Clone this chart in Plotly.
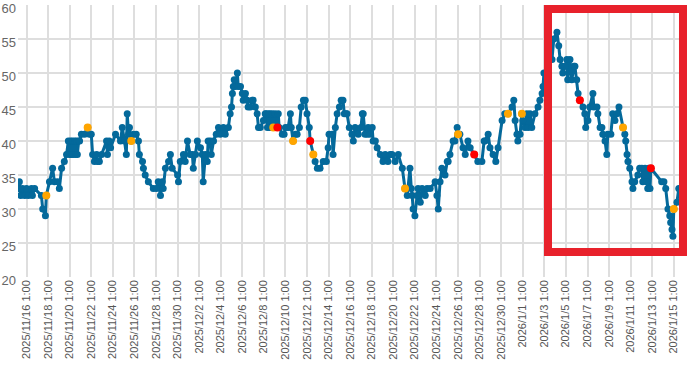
import datetime as dt
import plotly.graph_objects as go

# ---------------- data ----------------
start = dt.datetime(2025, 11, 16, 1, 0)

# hours after 2025/11/16 1:00 and the reading at that time
hours = [-18, -16, -13, -9, -4, 0, 4, 11, 13, 18, 33, 36, 42, 44, 51, 58, 62, 69, 73, 78,
         84, 89, 93, 96, 98, 100, 102, 104, 107, 109, 111, 113, 116, 118, 122, 129, 136, 140, 144, 147,
         151, 156, 158, 162, 167, 178, 180, 184, 187, 198, 209, 213, 218, 222, 224, 227, 229, 233, 238, 244,
         249, 251, 258, 260, 264, 271, 282, 289, 293, 298, 302, 304, 309, 316, 320, 324, 336, 338, 342, 349,
         353, 358, 364, 369, 371, 376, 380, 387, 391, 393, 398, 402, 404, 409, 411, 416, 422, 427, 431, 438,
         442, 449, 453, 456, 458, 460, 462, 464, 469, 471, 476, 480, 482, 487, 491, 493, 498, 502, 504, 509,
         513, 516, 520, 527, 531, 533, 536, 538, 540, 542, 544, 547, 549, 553, 558, 560, 562, 569, 573, 576,
         582, 587, 589, 593, 598, 602, 607, 611, 616, 620, 624, 629, 631, 638, 642, 647, 653, 660, 667, 671,
         673, 680, 682, 687, 691, 696, 700, 704, 707, 711, 713, 718, 724, 727, 731, 738, 744, 747, 749, 753,
         758, 760, 764, 769, 771, 776, 780, 787, 793, 798, 804, 809, 813, 820, 827, 836, 842, 847, 853, 856,
         858, 860, 864, 869, 871, 876, 880, 887, 891, 898, 909, 913, 916, 920, 924, 931, 936, 938, 942, 949,
         953, 958, 960, 964, 971, 976, 982, 987, 996, 1004, 1013, 1018, 1020, 1027, 1031, 1038, 1044, 1049, 1058, 1064,
         1071, 1080, 1084, 1087, 1091, 1093, 1098, 1102, 1104, 1109, 1113, 1116, 1120, 1124, 1131, 1138, 1142, 1147, 1149, 1151,
         1160, 1169, 1173, 1180, 1184, 1187, 1191, 1193, 1198, 1202, 1204, 1209, 1213, 1218, 1220, 1224, 1227, 1231, 1238, 1242,
         1244, 1249, 1253, 1260, 1262, 1269, 1271, 1276, 1280, 1282, 1287, 1291, 1293, 1300, 1304, 1309, 1313, 1318, 1327, 1331,
         1333, 1336, 1338, 1342, 1347, 1349, 1353, 1360, 1364, 1369, 1371, 1376, 1380, 1382, 1384, 1387, 1389, 1413, 1418, 1422,
         1427, 1431, 1433, 1436, 1438, 1440, 1447, 1451]

values = [33, 34, 32, 33, 32, 33, 32, 33, 32, 33, 32, 30, 29, 32, 34, 36, 34, 34, 33, 36,
          37, 38, 40, 38, 40, 38, 40, 38, 40, 38, 40, 38, 40, 40, 41, 41, 42, 41, 41, 38,
          37, 38, 37, 37, 38, 40, 38, 40, 39, 41, 40, 42, 40, 38, 44, 41, 42, 40, 41, 41,
          40, 38, 37, 36, 35, 34, 33, 33, 34, 32, 34, 33, 36, 37, 38, 36, 35, 34, 37, 38,
          37, 40, 38, 38, 36, 38, 40, 39, 38, 34, 38, 37, 40, 40, 38, 40, 41, 42, 41, 42,
          41, 42, 44, 45, 47, 48, 49, 48, 50, 48, 48, 47, 46, 47, 46, 45, 45, 46, 46, 45,
          44, 42, 42, 43, 44, 44, 42, 44, 42, 44, 42, 44, 42, 44, 42, 44, 42, 41, 41, 42,
          42, 44, 42, 40, 41, 41, 42, 45, 46, 46, 44, 42, 40, 38, 37, 36, 36, 37, 37, 39,
          41, 41, 38, 42, 44, 45, 46, 46, 44, 44, 44, 42, 41, 40, 42, 41, 42, 44, 44, 41,
          41, 42, 41, 42, 40, 40, 39, 38, 37, 38, 37, 38, 38, 37, 38, 36, 33, 32, 36, 33,
          32, 30, 29, 32, 33, 31, 33, 32, 33, 33, 34, 32, 30, 34, 36, 35, 37, 37, 38, 40,
          40, 42, 41, 41, 39, 38, 40, 39, 38, 37, 37, 40, 40, 41, 39, 38, 37, 39, 43, 44,
          44, 45, 46, 43, 41, 40, 41, 44, 43, 42, 44, 42, 44, 42, 44, 45, 46, 47, 48, 50,
          51, 52, 55, 56, 54, 52, 51, 50, 51, 52, 49, 52, 49, 51, 51, 49, 47, 46, 45, 44,
          42, 43, 45, 47, 45, 45, 44, 42, 42, 41, 40, 38, 41, 41, 44, 43, 44, 45, 42, 41,
          40, 38, 37, 36, 34, 33, 34, 35, 36, 36, 34, 36, 34, 33, 36, 33, 36, 34, 34, 33,
          30, 29, 28, 27, 26, 30, 31, 33]

# highlighted readings (hours after start)
orange_hours = [44, 136, 233, 549, 593, 638, 842, 960, 1071, 1102, 1327, 1440]
red_hours = [558, 631, 996, 1231, 1389]

tick_labels = ["2025/11/16 1:00", "2025/11/18 1:00", "2025/11/20 1:00", "2025/11/22 1:00",
               "2025/11/24 1:00", "2025/11/26 1:00", "2025/11/28 1:00", "2025/11/30 1:00",
               "2025/12/2 1:00", "2025/12/4 1:00", "2025/12/6 1:00", "2025/12/8 1:00",
               "2025/12/10 1:00", "2025/12/12 1:00", "2025/12/14 1:00", "2025/12/16 1:00",
               "2025/12/18 1:00", "2025/12/20 1:00", "2025/12/22 1:00", "2025/12/24 1:00",
               "2025/12/26 1:00", "2025/12/28 1:00", "2025/12/30 1:00", "2026/1/1 1:00",
               "2026/1/3 1:00", "2026/1/5 1:00", "2026/1/7 1:00", "2026/1/9 1:00",
               "2026/1/11 1:00", "2026/1/13 1:00", "2026/1/15 1:00"]

# ---------------- build ----------------
def t(h):
    return start + dt.timedelta(hours=h)

times = [t(h) for h in hours]
lookup = dict(zip(hours, values))
tick_vals = [t(48 * i) for i in range(len(tick_labels))]

BLUE = "#04699b"
fig = go.Figure()
fig.add_trace(go.Scatter(
    x=times, y=values, mode="lines+markers",
    line=dict(color=BLUE, width=3),
    marker=dict(color=BLUE, size=7),
    hoverinfo="x+y", showlegend=False))
fig.add_trace(go.Scatter(
    x=[t(h) for h in orange_hours], y=[lookup[h] for h in orange_hours],
    mode="markers", marker=dict(color="#ffa500", size=8), showlegend=False))
fig.add_trace(go.Scatter(
    x=[t(h) for h in red_hours], y=[lookup[h] for h in red_hours],
    mode="markers", marker=dict(color="#ff0000", size=8), showlegend=False))

# highlight box around the most recent period
fig.add_shape(type="rect", xref="paper", yref="paper",
              x0=0.7994, x1=1.003, y0=0.092, y1=0.985,
              line=dict(color="#e8212b", width=8), fillcolor="rgba(0,0,0,0)",
              layer="above")

FONT = "Liberation Sans, Arial, sans-serif"
fig.update_layout(
    width=700, height=372,
    margin=dict(l=18, r=19, t=5, b=95, autoexpand=False),
    paper_bgcolor="white", plot_bgcolor="white",
    font=dict(family=FONT, color="#666666"),
    showlegend=False,
)
fig.update_xaxes(
    type="date", automargin=False,
    range=[t(-19), t(1456)],
    tickmode="array", tickvals=tick_vals, ticktext=tick_labels,
    tickangle=-90, tickfont=dict(size=11, color="#555555"),
    showgrid=True, gridcolor="#dedede", gridwidth=2,
    zeroline=False, showline=False, ticks="",
)
fig.update_yaxes(
    automargin=False,
    range=[20, 60.0001], tickmode="array", tickvals=[20, 25, 30, 35, 40, 45, 50, 55, 60],
    tickfont=dict(size=13, color="#666666"),
    showgrid=True, gridcolor="#dedede", gridwidth=2,
    zeroline=False, showline=False, ticks="", ticklabelstandoff=1,
    ticklabelshift=3, ticklabeloverflow="allow",
)

fig.write_html("out.html", config={"displayModeBar": False},
               post_script="document.body.style.margin='0';")
